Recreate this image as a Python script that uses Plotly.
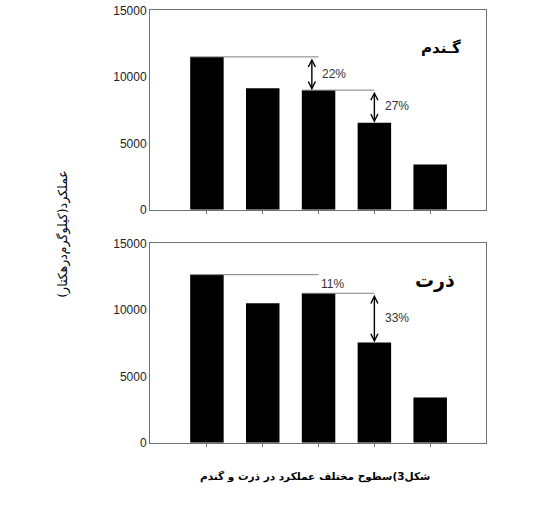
import plotly.graph_objects as go

# ---- data ----
levels = [0, 1, 2, 3, 4]
wheat_yield = [11500, 9150, 9000, 6550, 3400]
corn_yield = [12650, 10500, 11250, 7550, 3400]
y_ticks = [0, 5000, 10000, 15000]
y_tick_labels = ["0", "5000", "10000", "15000"]
wheat_title = "گـندم"
corn_title = "ذرت"
# (from bar, to bar, label)
wheat_gaps = [(0, 2, "22%"), (2, 3, "27%")]
corn_gaps = [(0, 2, "11%"), (2, 3, "33%")]
y_title = "عملکرد(کیلوگرم‌درهکتار)"
caption = "شکل3)سطوح مختلف عملکرد در ذرت و گندم"

W, H = 536, 524
def px(x):
    return x / W
def py(y):
    # compensate for observed vertical scaling in the photographed page
    y = (y - 5.94) / 0.9746
    return 1 - y / H

fig = go.Figure()
fig.add_trace(go.Bar(x=levels, y=wheat_yield, marker_color="black", width=0.6,
                     marker_line_width=0, xaxis="x", yaxis="y", showlegend=False))
fig.add_trace(go.Bar(x=levels, y=corn_yield, marker_color="black", width=0.6,
                     marker_line_width=0, xaxis="x2", yaxis="y2", showlegend=False))

ax_common = dict(showline=True, mirror=True, linecolor="#707070", linewidth=1,
                 showgrid=False, zeroline=False)
xcommon = dict(ax_common, range=[-1.02, 5.0], tickvals=levels, showticklabels=False,
               ticks="outside", ticklen=3, tickcolor="#707070")
ycommon = dict(ax_common, range=[0, 15000], tickvals=y_ticks, ticktext=y_tick_labels,
               ticks="", tickfont=dict(family="Liberation Sans, Arial", size=12, color="#222"))

fig.update_layout(
    width=W, height=H,
    margin=dict(l=0, r=0, t=0, b=0),
    paper_bgcolor="white", plot_bgcolor="white",
    xaxis=dict(xcommon, domain=[px(150), px(486)], anchor="y"),
    yaxis=dict(ycommon, domain=[py(209), py(9.3)], anchor="x"),
    xaxis2=dict(xcommon, domain=[px(150), px(486)], anchor="y2"),
    yaxis2=dict(ycommon, domain=[py(442.3), py(242.7)], anchor="x2"),
    bargap=0.4,
)

shapes = []
annotations = []

def add_gaps(gaps, vals, xr, yr, arrow_offsets, label_pos):
    for k, (i, j, lab) in enumerate(gaps):
        y0 = vals[i]
        y1 = vals[j]
        shapes.append(dict(type="line", xref=xr, yref=yr, x0=i - 0.3, x1=j,
                           y0=y0, y1=y0, line=dict(color="#808080", width=1)))
        xa = j + arrow_offsets[k]
        if (y0 - y1) > 2000:
            annotations.append(dict(xref=xr, yref=yr, x=xa, y=y1, ax=xa, ay=y0,
                                    axref=xr, ayref=yr, showarrow=True, text="",
                                    arrowhead=5, startarrowhead=5, arrowside="end+start",
                                    arrowsize=1, arrowwidth=1.4, arrowcolor="black",
                                    standoff=0, startstandoff=0))
        lx, ly = label_pos[k]
        annotations.append(dict(xref=xr, yref=yr, x=j + lx, y=(y0 + y1) / 2 + ly,
                                text=lab, showarrow=False, xanchor="left", yanchor="middle",
                                font=dict(family="Liberation Sans, Arial", size=12, color="#333")))

add_gaps(wheat_gaps, wheat_yield, "x", "y", [-0.12, 0.0], [(0.02, 0), (0.16, 0)])
add_gaps(corn_gaps, corn_yield, "x2", "y2", [-0.12, 0.0], [(0.0, 0), (0.16, 0)])

# panel titles
annotations.append(dict(xref="paper", yref="paper", x=px(441), y=py(47), text="<b>%s</b>" % wheat_title,
                        xanchor="center", yanchor="middle",
                        showarrow=False, font=dict(family="DejaVu Sans", size=15, color="black")))
annotations.append(dict(xref="paper", yref="paper", x=px(435), y=py(280), text="<b>%s</b>" % corn_title,
                        xanchor="center", yanchor="middle",
                        showarrow=False, font=dict(family="DejaVu Sans", size=19, color="black")))
# y axis title
annotations.append(dict(xref="paper", yref="paper", x=px(63), y=py(233), text=y_title, textangle=-90,
                        xanchor="center", yanchor="middle",
                        showarrow=False, font=dict(family="DejaVu Sans", size=12.5, color="black")))
# caption
annotations.append(dict(xref="paper", yref="paper", x=px(315), y=py(476), text="<b>%s</b>" % caption,
                        xanchor="center", yanchor="middle",
                        showarrow=False, font=dict(family="DejaVu Sans", size=10.5, color="black")))

fig.update_layout(shapes=shapes, annotations=annotations)
fig.write_html("out.html", config={"displayModeBar": False},
               post_script="document.body.style.margin='0';")
